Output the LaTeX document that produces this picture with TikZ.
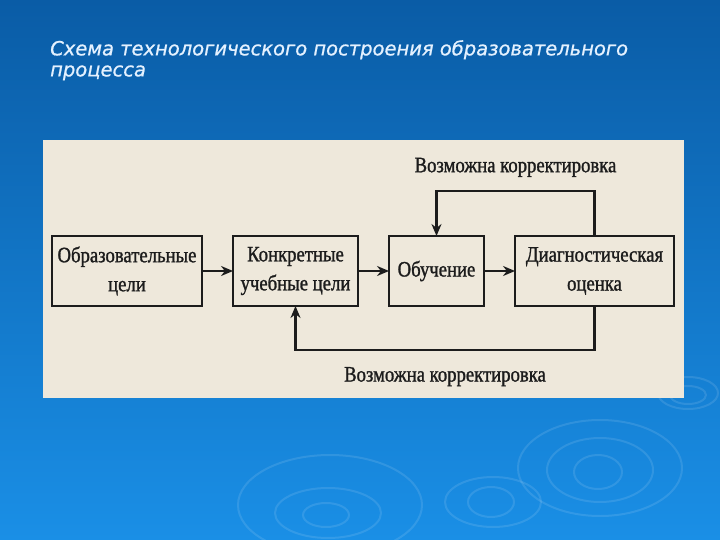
\documentclass[tikz,border=0pt]{standalone}
\usepackage{fontspec}
\newfontfamily\scanfont[FakeStretch=0.85, FakeBold=1.2]{Liberation Serif}
\newfontfamily\titlefont[FakeBold=0.8]{DejaVu Sans Oblique}
\usetikzlibrary{arrows.meta,chains,positioning}
\definecolor{slidetop}{HTML}{0A5CA6}
\definecolor{slidebot}{HTML}{1A8FE6}
\definecolor{paper}{HTML}{EEE8DB}
\definecolor{ink}{HTML}{1C1C1C}
\definecolor{titleink}{HTML}{E4F1FF}

\begin{document}
\begin{tikzpicture}[x=1pt, y=-1pt,
node distance=31pt,
 start chain = S going right,
    X/.style = {rectangle, draw=ink, line width=1.6pt,% blocks of the scheme (chain)
                minimum width=#1, minimum height=70pt,
                inner sep=0pt, outer sep=0pt, align=center,
                font=\scanfont\fontsize{22}{29}\selectfont,
                text=ink, on chain},
    X/.default=100pt,
    A/.style = {draw=ink, line width=2.2pt,% arrows between blocks
                -{Stealth[length=12pt,width=10pt]}},
    L/.style = {inner sep=0pt, text=ink,
                font=\scanfont\fontsize{22}{29}\selectfont},
    R/.style = {draw=white, opacity=0.11, line width=2pt},% ripples on the slide
                        ]
\useasboundingbox (0,0) rectangle (720,540);
\shade[top color=slidetop, bottom color=slidebot] (0,0) rectangle (720,540);

% ripples
\foreach \cx/\cy/\rx/\ry in {600/468/82/48, 600/470/53/32, 598/472/24/17,
                             493/502/48/25, 491/502/23/15,
                             330/505/92/50, 328/513/53/25, 326/515/23/12,
                             688/393/30/16, 688/395/18/9}
    \draw[R] (\cx,\cy) ellipse [x radius=\rx, y radius=\ry];

\node[anchor=north west, align=left, inner sep=0pt, text=titleink,
      font=\titlefont\fontsize{19.5}{21}\selectfont] (title) at (50,40)
      {Схема технологического построения образовательного\\процесса};

\fill[paper] (43,140) rectangle (684,398);

\node[X=150pt] at (127,271) {Образовательные\\цели};
\node[X=125pt] {Конкретные\\учебные цели};
\node[X=95pt]  {Обучение};
\node[X=159pt] {Диагностическая\\оценка};

\foreach \i [count=\j from 2] in {1,2,3}
    \draw[A] (S-\i) -- (S-\j);

\draw[A] (S-4.north) -- ++(0,-45) -| node[pos=0.25, L, above=13pt] (corrup) {Возможна корректировка} (S-3.north);
\draw[A] (S-4.south) -- ++(0,44) -| node[pos=0.25, L, below=16pt] (corrdown) {Возможна корректировка} (S-2.south);

\end{tikzpicture}
\end{document}
